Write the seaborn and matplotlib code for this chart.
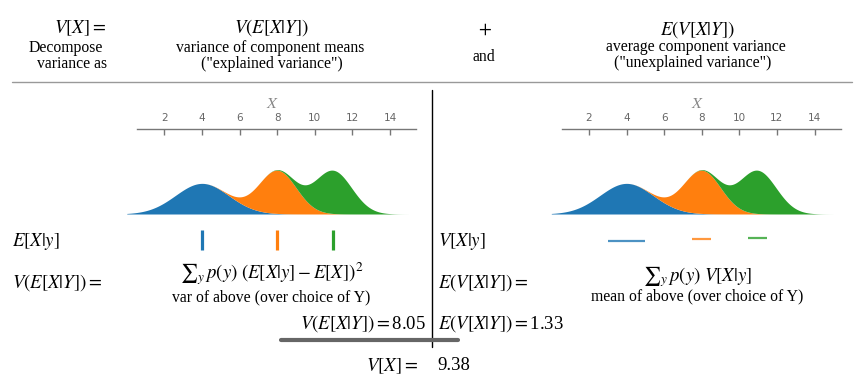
import numpy as np
import pandas as pd
import seaborn as sns
import matplotlib.pyplot as plt

# Mixture components
components = ['y1', 'y2', 'y3']
means = [4.0, 8.0, 10.95]
variances = [2.0, 1.0, 1.0]
weights = [1/3, 1/3, 1/3]
x_ticks = [2, 4, 6, 8, 10, 12, 14]
var_explained = '8.05'
var_unexplained = '1.33'
var_total = '9.38'

sns.set_style('white')
plt.rcParams['font.family'] = ['Liberation Serif', 'DejaVu Serif']
plt.rcParams['mathtext.fontset'] = 'stix'
plt.rcParams['text.color'] = 'black'
colors = sns.color_palette('tab10', 3)

W, H = 867, 383
fig = plt.figure(figsize=(W / 100, H / 100), dpi=100)

# overlay in pixel coords for text and rules
ov = fig.add_axes([0, 0, 1, 1])
ov.set_xlim(0, W)
ov.set_ylim(H, 0)
ov.axis('off')


def px_axes(x0, x1, y0, y1):
    return fig.add_axes([x0 / W, 1 - y1 / H, (x1 - x0) / W, (y1 - y0) / H])


# densities of the components, stacked
xs = np.linspace(0, 15, 500)
dens = pd.DataFrame({c: w * np.exp(-(xs - m) ** 2 / (2 * v)) / np.sqrt(2 * np.pi * v)
                     for c, m, v, w in zip(components, means, variances, weights)})
stacked = dens.cumsum(axis=1)

XMAX = 15.5
for x0 in (126.8, 551.3):
    scale = 18.8
    ax = px_axes(x0, x0 + XMAX * scale, 129, 214)
    lower = np.zeros_like(xs)
    for c, col in zip(components, colors):
        upper = stacked[c].values
        ax.fill_between(xs, lower, upper, color=col, lw=0)
        lower = upper
    ax.set_xlim(0, XMAX)
    ax.set_ylim(0, 0.261)
    sns.despine(ax=ax, top=False, bottom=True, left=True, right=True)
    ax.spines['top'].set_bounds(0.55, 15.4)
    ax.spines['top'].set_color('#777777')
    ax.spines['top'].set_linewidth(1)
    ax.xaxis.tick_top()
    ax.set_xticks(x_ticks)
    ax.set_yticks([])
    ax.tick_params(axis='x', direction='in', length=4, width=1, color='#777777',
                   labelsize=7.5, labelcolor='#666666', pad=4)
    for lab in ax.get_xticklabels():
        lab.set_family('DejaVu Sans')
    ax.xaxis.set_label_position('top')
    ax.set_xlabel('$X$', fontsize=11.5, color='#888888', labelpad=4)
    ax.patch.set_alpha(0)

    # row of conditional means / variances
    rax = px_axes(x0, x0 + XMAX * scale, 225, 255)
    rax.set_xlim(0, XMAX)
    rax.set_ylim(0, 1)
    rax.axis('off')
    if x0 < 300:
        rax.vlines(means, 0.17, 0.83, colors=colors, lw=2.3)
    else:
        for m, v, col, yy in zip(means, variances, colors, [0.48, 0.55, 0.58]):
            rax.hlines(yy, m - v / 2, m + v / 2, color=col, lw=1.6, alpha=0.8)

# rules
ov.plot([12, 852], [82, 82], color='#999999', lw=1)
ov.plot([432, 432], [90, 347], color='black', lw=1)
ov.plot([281, 458], [340, 340], color='#666666', lw=3)

MS = 13.5
TS = 11.3
# header
ov.text(106, 28, r'$V[X] =$', fontsize=MS, ha='right', va='center')
ov.text(66, 48, 'Decompose', fontsize=TS, ha='center', va='center')
ov.text(72, 64, 'variance as', fontsize=TS, ha='center', va='center')
ov.text(271, 28, r'$V(E[X|Y])$', fontsize=MS, ha='center', va='center')
ov.text(270, 48, 'variance of component means', fontsize=TS, ha='center', va='center')
ov.text(272, 64, '("explained variance")', fontsize=TS, ha='center', va='center')
ov.text(485, 30, r'$+$', fontsize=MS, ha='center', va='center')
ov.text(484, 57, 'and', fontsize=TS, ha='center', va='center')
ov.text(697, 30, r'$E(V[X|Y])$', fontsize=MS, ha='center', va='center')
ov.text(696, 47, 'average component variance', fontsize=TS, ha='center', va='center')
ov.text(693, 63, '("unexplained variance")', fontsize=TS, ha='center', va='center')

# rows
ov.text(12, 242, r'$E[X|y]$', fontsize=MS, ha='left', va='center')
ov.text(12, 283, r'$V(E[X|Y]) =$', fontsize=MS, ha='left', va='center')
ov.text(272, 274, r'$\sum{}_y\,p(y)\ (E[X|y] - E[X])^2$', fontsize=MS, ha='center', va='center')
ov.text(271, 297, 'var of above (over choice of Y)', fontsize=TS, ha='center', va='center')
ov.text(426, 324, r'$V(E[X|Y]) = $' + var_explained, fontsize=MS, ha='right', va='center')

ov.text(438, 242, r'$V[X|y]$', fontsize=MS, ha='left', va='center')
ov.text(438, 283, r'$E(V[X|Y]) =$', fontsize=MS, ha='left', va='center')
ov.text(697, 277, r'$\sum{}_y\,p(y)\ V[X|y]$', fontsize=MS, ha='center', va='center')
ov.text(697, 296, 'mean of above (over choice of Y)', fontsize=TS, ha='center', va='center')
ov.text(438, 324, r'$E(V[X|Y]) = $' + var_unexplained, fontsize=MS, ha='left', va='center')

ov.text(418, 366, r'$V[X] =$', fontsize=MS, ha='right', va='center')
ov.text(437, 366, var_total, fontsize=MS, ha='left', va='center')

fig.savefig('out.png', dpi=100)
